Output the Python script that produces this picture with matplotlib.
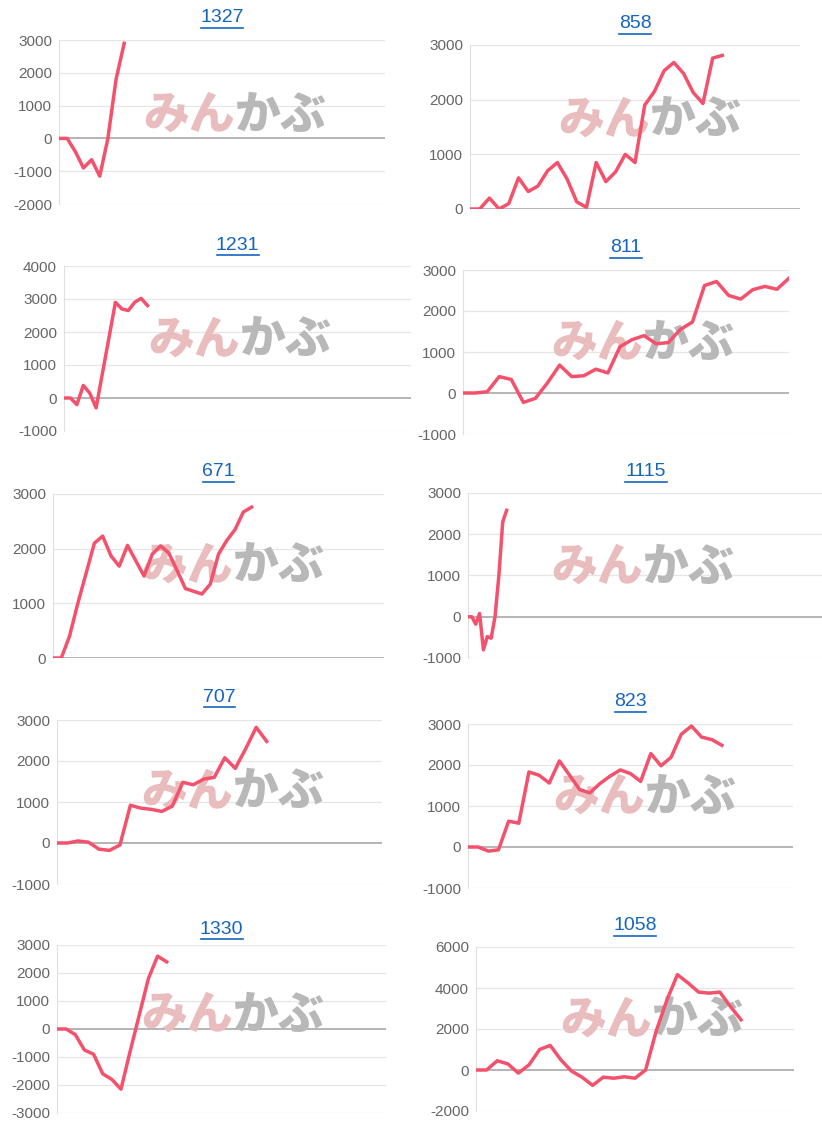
import numpy as np
import matplotlib.pyplot as plt

plt.rcParams['font.family'] = ['Liberation Sans', 'DejaVu Sans']

W, H = 822, 1130

# panel data (cumulative values)
titles = ['1327', '858', '1231', '811', '671', '1115', '707', '823', '1330', '1058']
v1327 = [0, 0, -400, -900, -650, -1150, 0, 1800, 2900]
v858 = [0, 0, 200, 0, 100, 570, 320, 420, 700, 850, 550, 130, 30, 850, 500, 680,
        1000, 850, 1900, 2150, 2530, 2680, 2480, 2130, 1930, 2760, 2810]
v1231 = [0, 0, -200, 380, 150, -300, 770, 1830, 2900, 2700, 2650, 2900, 3020, 2800]
v811 = [0, 0, 30, 400, 330, -230, -130, 250, 680, 400, 420, 580, 490, 1130, 1300, 1400,
        1200, 1230, 1550, 1730, 2620, 2720, 2380, 2290, 2520, 2600, 2530, 2800]
v671 = [0, 0, 400, 1000, 1550, 2100, 2230, 1870, 1680, 2060, 1780, 1500, 1900, 2050,
        1920, 1600, 1270, 1220, 1170, 1350, 1900, 2150, 2350, 2670, 2760]
v1115 = [0, 0, -180, 80, -800, -480, -520, 0, 1000, 2300, 2580]
v707 = [0, 0, 50, 20, -150, -180, -50, 920, 850, 820, 770, 900, 1480, 1420, 1560, 1600,
        2080, 1820, 2300, 2820, 2480]
v823 = [0, 0, -100, -70, 630, 580, 1830, 1750, 1560, 2100, 1750, 1400, 1320, 1550, 1730,
        1880, 1790, 1600, 2280, 1980, 2190, 2750, 2950, 2680, 2620, 2480]
v1330 = [0, 0, -200, -750, -900, -1600, -1800, -2150, -800, 500, 1800, 2600, 2400]
v1058 = [0, 0, 450, 300, -150, 250, 1000, 1200, 500, -50, -350, -750, -350, -400, -330,
         -400, 0, 1900, 3400, 4650, 4250, 3800, 3750, 3800, 3100, 2450]
series = [v1327, v858, v1231, v811, v671, v1115, v707, v823, v1330, v1058]
slots = [40, 34, 54, 27, 40, 92, 31, 32, 36, 30]
yticks = [np.arange(-2000, 3001, 1000), np.arange(0, 3001, 1000),
          np.arange(-1000, 4001, 1000), np.arange(-1000, 3001, 1000),
          np.arange(0, 3001, 1000), np.arange(-1000, 3001, 1000),
          np.arange(-1000, 3001, 1000), np.arange(-1000, 3001, 1000),
          np.arange(-3000, 3001, 1000), np.arange(-2000, 6001, 2000)]

# pixel boxes: x0, x1, y_top, y_bottom, title_y
boxes = [(59, 385, 40, 204, 18), (470, 800, 45, 209, 24),
         (64, 411, 266, 431, 245), (463, 789, 270, 434, 248),
         (53, 384, 494, 658, 472), (468, 823, 493, 658, 472),
         (57, 382, 720, 884, 697), (468, 793, 724, 888, 702),
         (57, 386, 945, 1113, 929), (476, 794, 947, 1111, 926)]
# watermark centre in pixels (x, y)
marks = [(235, 115), (650, 120), (240, 340), (643, 343), (233, 566),
         (643, 567), (233, 792), (645, 797), (233, 1015), (652, 1020)]

fig = plt.figure(figsize=(W / 100, H / 100), dpi=100)
line_color = '#f4516c'

for t, vals, n, yt, (x0, x1, yt0, yb0, ty), (mx, my) in zip(titles, series, slots, yticks, boxes, marks):
    ax = fig.add_axes([x0 / W, 1 - yb0 / H, (x1 - x0) / W, (yb0 - yt0) / H])
    ax.plot(np.arange(len(vals)), vals, color=line_color, lw=2.5, zorder=3)
    ax.set_xlim(0, n)
    ax.set_ylim(yt[0], yt[-1])
    ax.set_yticks(yt)
    ax.set_yticklabels([str(v) for v in yt])
    ax.set_xticks([])
    for v in yt:
        ax.axhline(v, color='#a8a8a8' if v == 0 else '#e6e6e6', lw=1.2 if v == 0 else 0.9, zorder=1)
    for s in ['top', 'right', 'bottom']:
        ax.spines[s].set_visible(False)
    ax.spines['left'].set_color('#e0e0e0')
    ax.tick_params(axis='y', length=0, labelsize=11, labelcolor='#666666', pad=5)
    ax.patch.set_alpha(0)
    # watermark, behind the line
    ax.text(mx / W, 1 - my / H, 'みん', transform=fig.transFigure, ha='right', va='center',
            fontsize=33, fontweight='black', style='italic', color='#e9bcbe',
            family=['Noto Sans CJK JP'], zorder=2, clip_on=False)
    ax.text(mx / W, 1 - my / H, 'かぶ', transform=fig.transFigure, ha='left', va='center',
            fontsize=33, fontweight='black', style='italic', color='#b8b8b8',
            family=['Noto Sans CJK JP'], zorder=2, clip_on=False)
    fig.text((x0 + x1) / 2 / W, 1 - ty / H, t, ha='center', va='center', fontsize=14,
             color='#1565c0')
    # underline
    tw = len(t) * 10.5
    fig.add_artist(plt.Line2D([((x0 + x1) / 2 - tw / 2) / W, ((x0 + x1) / 2 + tw / 2) / W],
                              [1 - (ty + 10) / H] * 2, color='#1565c0', lw=1.2))

fig.savefig('out.png', dpi=100, facecolor='white')
